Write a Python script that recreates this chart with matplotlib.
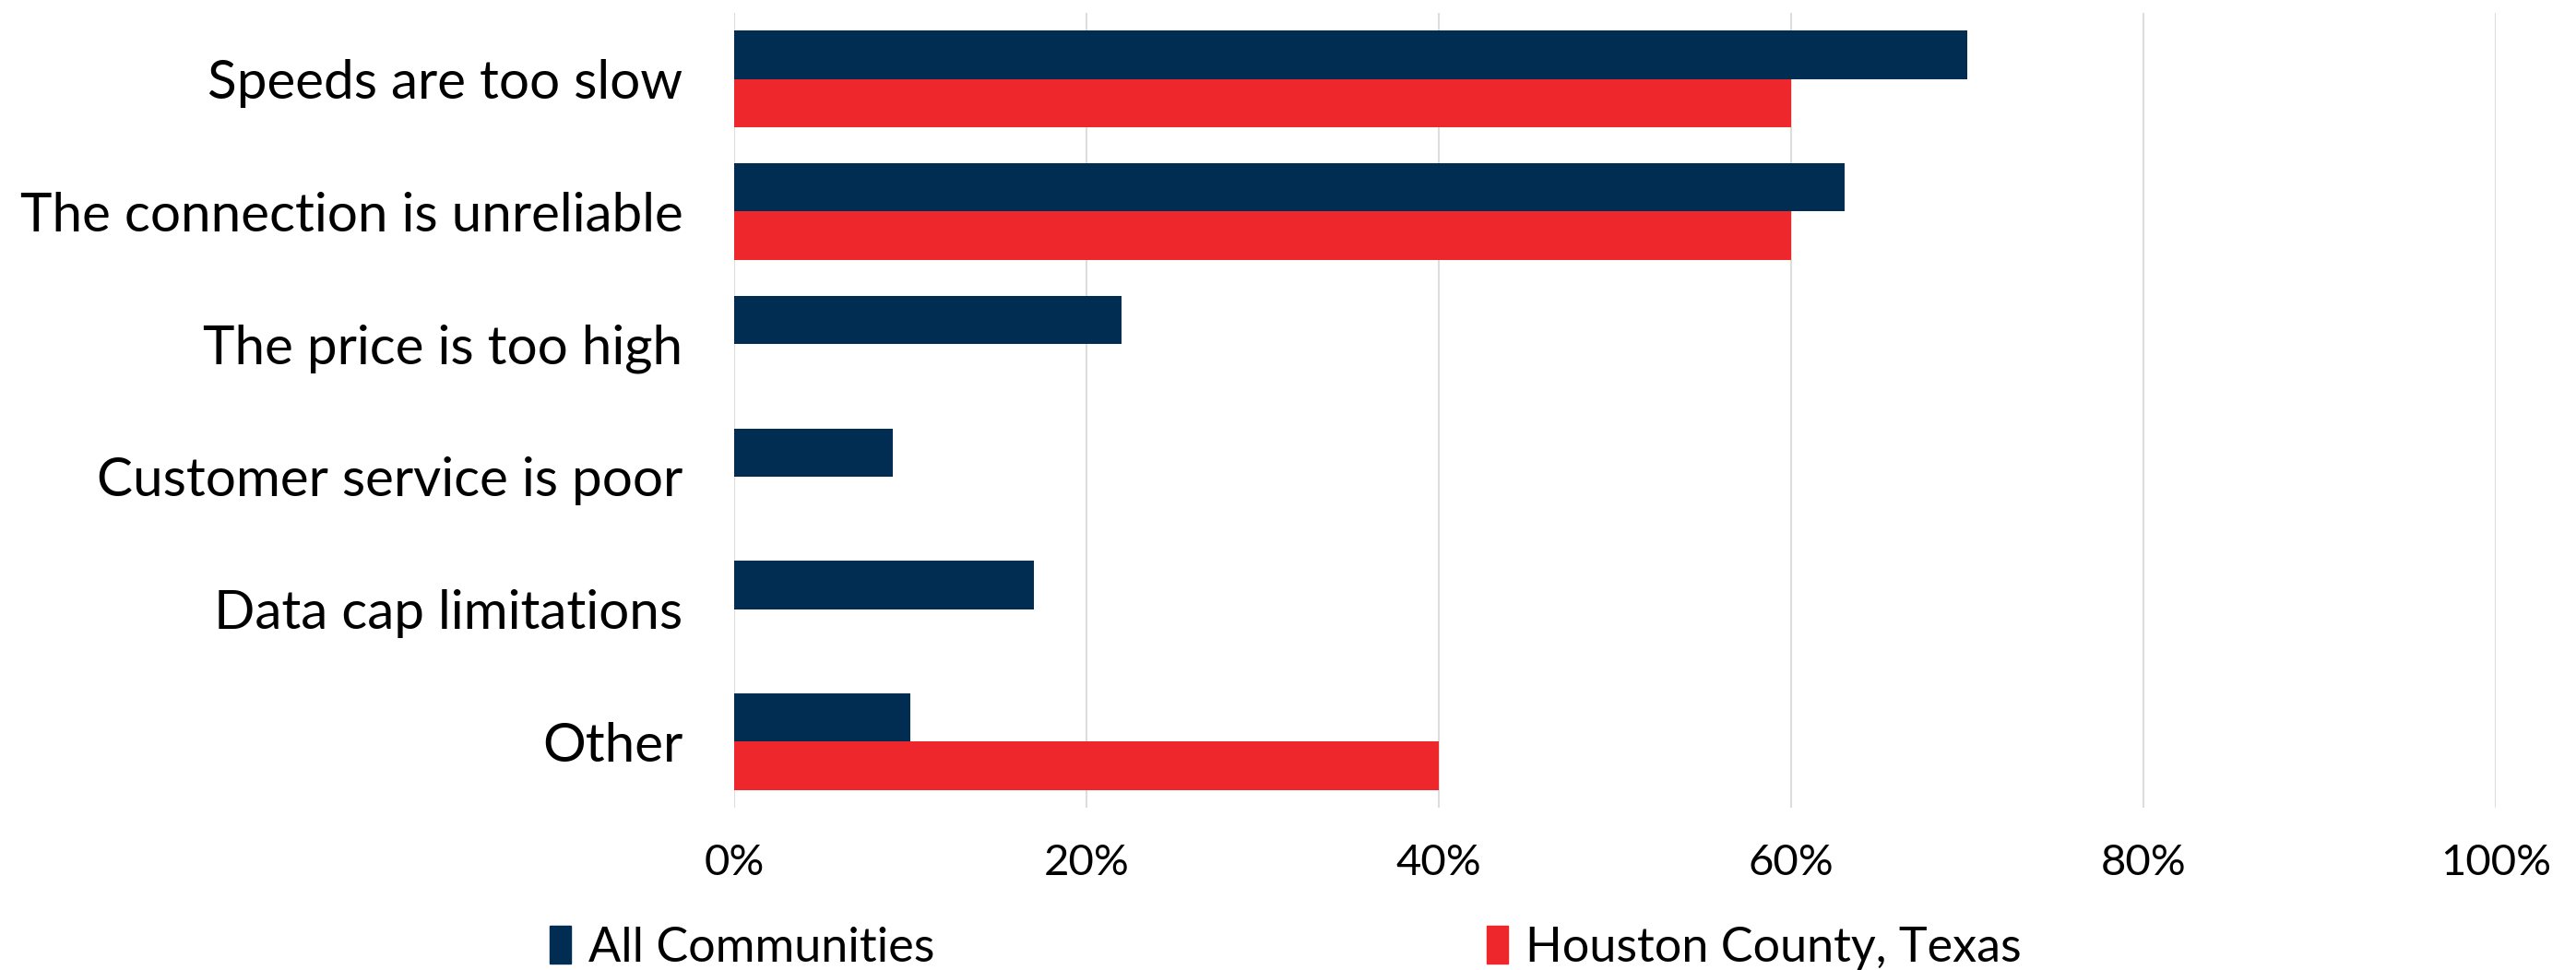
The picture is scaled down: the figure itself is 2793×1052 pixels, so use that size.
import numpy as np
import matplotlib.pyplot as plt
from matplotlib.patches import Patch

categories = ['Speeds are too slow', 'The connection is unreliable', 'The price is too high',
              'Customer service is poor', 'Data cap limitations', 'Other']
all_communities = [0.70, 0.63, 0.22, 0.09, 0.17, 0.10]
houston = [0.60, 0.60, 0.0, 0.0, 0.0, 0.40]
series_names = ['All Communities', 'Houston County, Texas']
xticks = [0, 0.2, 0.4, 0.6, 0.8, 1.0]
xtick_labels = ['0%', '20%', '40%', '60%', '80%', '100%']

navy = '#002D51'
red = '#EE272D'
grid_c = '#DDDDDD'

plt.rcParams['font.family'] = ['Lato', 'DejaVu Sans']
plt.rcParams['text.color'] = 'black'
plt.rcParams['xtick.color'] = 'black'
plt.rcParams['ytick.color'] = 'black'

fig = plt.figure(figsize=(27.93, 10.52), dpi=100)
ax = fig.add_axes([0.285, 0.167, 0.684, 0.82])

y = np.arange(len(categories))
h = 0.363
ax.barh(y - h / 2, all_communities, height=h, color=navy, zorder=3)
ax.barh(y + h / 2, houston, height=h, color=red, zorder=3)

ax.set_ylim(len(categories) - 0.5, -0.5)
ax.set_xlim(0, 1.0)
ax.set_yticks(y)
ax.set_yticklabels(categories, fontsize=42)
ax.set_xticks(xticks)
ax.set_xticklabels(xtick_labels, fontsize=34)
ax.tick_params(axis='both', length=0)
ax.tick_params(axis='y', pad=40)
ax.tick_params(axis='x', pad=28)
ax.grid(axis='x', color=grid_c, linewidth=1.5, zorder=0)
for s in ax.spines.values():
    s.set_visible(False)

handles = [Patch(color=navy), Patch(color=red)]
fig.legend(handles, series_names, loc='center', ncol=2, frameon=False,
           bbox_to_anchor=(0.499, 0.023), fontsize=37.5,
           handlelength=0.45, handleheight=0.85, handletextpad=0.35, columnspacing=11.5)

fig.savefig('out.png', dpi=100)
